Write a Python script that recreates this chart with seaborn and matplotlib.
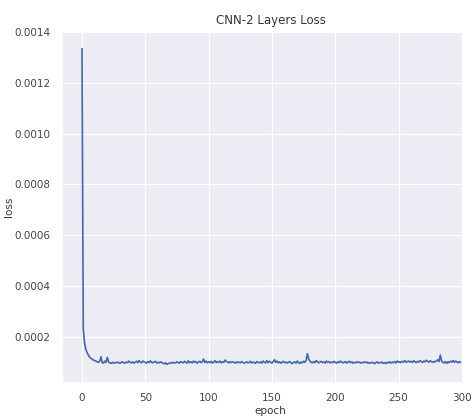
import numpy as np
import pandas as pd
import seaborn as sns
import matplotlib
matplotlib.use('Agg')
import matplotlib.pyplot as plt

# loss per epoch, in units of 1e-6
loss_e6 = [
    1335, 230, 175, 150, 138, 128, 120, 115, 112, 108, 106, 104, 101, 99, 103, 121, 98, 96, 104, 99,
    119, 101, 97, 95, 99, 96, 98, 97, 100, 98, 95, 99, 101, 97, 96, 100, 98, 104, 99, 97,
    101, 96, 99, 103, 98, 106, 100, 97, 104, 101, 99, 96, 102, 98, 105, 99, 97, 101, 103, 96,
    99, 97, 101, 98, 95, 93, 97, 91, 94, 96, 95, 99, 96, 98, 97, 101, 98, 96, 102, 99,
    97, 103, 99, 96, 105, 98, 101, 97, 104, 99, 102, 96, 100, 103, 98, 101, 112, 99, 104, 97,
    101, 98, 103, 96, 100, 106, 98, 102, 99, 104, 97, 101, 99, 108, 103, 100, 97, 102, 98, 101,
    99, 96, 101, 98, 100, 97, 102, 99, 96, 98, 101, 97, 99, 103, 96, 100, 98, 95, 102, 99,
    97, 101, 96, 104, 99, 97, 106, 98, 103, 100, 96, 102, 109, 99, 104, 97, 101, 96, 99, 103,
    98, 100, 96, 99, 102, 97, 94, 99, 101, 96, 104, 98, 95, 100, 97, 103, 99, 107, 133, 112,
    104, 99, 97, 102, 98, 106, 101, 97, 100, 103, 98, 101, 96, 104, 99, 102, 97, 100, 98, 103,
    99, 96, 101, 98, 104, 100, 97, 99, 102, 96, 100, 103, 98, 101, 96, 99, 97, 101, 98, 100,
    96, 99, 97, 101, 98, 100, 95, 98, 96, 99, 97, 94, 98, 101, 96, 99, 97, 100, 95, 98,
    94, 99, 97, 101, 96, 100, 98, 102, 97, 104, 99, 101, 98, 103, 100, 106, 99, 102, 104, 100,
    103, 99, 105, 101, 98, 103, 100, 106, 102, 99, 104, 101, 107, 103, 100, 105, 102, 99, 103, 101,
    104, 110, 102, 128, 104, 99, 97, 102, 95, 101, 98, 103, 100, 106, 99, 104, 101, 97, 102, 99,
]
epochs = list(range(len(loss_e6)))

data = pd.DataFrame({'epoch': epochs, 'loss': [v * 1e-6 for v in loss_e6]})

sns.set_style('darkgrid', {'axes.facecolor': '#ecedf4', 'grid.color': 'white'})
plt.rcParams['font.family'] = ['DejaVu Sans']

fig = plt.figure(figsize=(4.75, 4.17), dpi=100)
ax = fig.add_axes([0.1305, 0.0847, 0.8445, 0.8383])
sns.lineplot(data=data, x='epoch', y='loss', ax=ax, linewidth=1.2, color='#4567a8')

ax.set_xlim(-15.8, 301)
ax.set_ylim(0.0000228, 0.0014)
ax.set_xticks([0, 50, 100, 150, 200, 250, 300])
ax.set_yticks([0.0002, 0.0004, 0.0006, 0.0008, 0.0010, 0.0012, 0.0014])
ax.yaxis.set_major_formatter(matplotlib.ticker.FormatStrFormatter('%.4f'))
ax.tick_params(labelsize=7.5, colors='#444444', pad=5)

ax.set_title('CNN-2 Layers Loss', fontsize=8.5, x=0.52, color='#333333')
ax.set_xlabel('epoch', fontsize=7.5, color='#333333')
ax.set_ylabel('loss', fontsize=7.5, color='#333333')
ax.xaxis.set_label_coords(0.52, -0.07)
ax.yaxis.set_label_coords(-0.12, 0.5)

fig.savefig('out.png', dpi=100)
